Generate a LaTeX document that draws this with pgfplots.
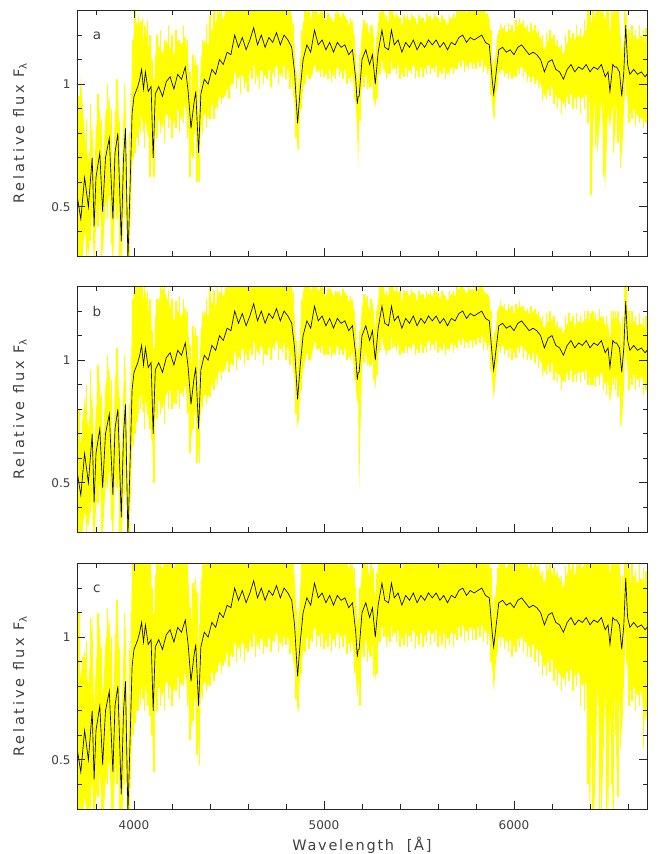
\documentclass[border=0pt]{standalone}
\usepackage{fontspec}
\setmainfont{DejaVu Sans}
\usepackage{pgfplots}
\pgfplotsset{compat=1.18}
\usepackage{pgfplotstable}
\usepgfplotslibrary{fillbetween}

\pgfplotstableread{
x f alo ahi blo bhi clo chi
3700 0.55 0.35 0.74 0.33 0.70 0.28 0.78
3720 0.45 0.25 1.03 0.28 0.66 0.20 0.85
3740 0.62 0.40 0.80 0.38 0.85 0.35 0.95
3760 0.50 0.30 0.68 0.32 0.72 0.25 0.80
3780 0.70 0.48 0.85 0.45 0.88 0.42 1.10
3790 0.42 0.25 0.60 0.22 0.62 0.20 0.70
3800 0.62 0.42 0.82 0.40 0.80 0.35 0.90
3820 0.72 0.52 0.90 0.50 0.92 0.45 1.05
3835 0.48 0.30 0.66 0.28 0.65 0.22 0.75
3850 0.70 0.50 0.88 0.48 0.90 0.40 0.98
3870 0.78 0.55 0.95 0.55 0.98 0.50 1.08
3889 0.45 0.25 0.65 0.25 0.62 0.20 0.72
3900 0.72 0.50 0.88 0.52 0.92 0.45 1.00
3915 0.80 0.58 0.98 0.58 1.00 0.52 1.10
3933 0.36 0.20 0.55 0.20 0.55 0.15 0.60
3945 0.70 0.48 0.88 0.45 0.90 0.40 0.95
3955 0.82 0.60 0.95 0.60 0.98 0.55 1.05
3968 0.28 0.15 0.45 0.15 0.45 0.10 0.50
3980 0.60 0.40 0.80 0.38 0.85 0.35 0.92
3990 0.88 0.65 1.10 0.62 1.15 0.60 1.25
4000 0.95 0.78 1.22 0.75 1.30 0.72 1.35
4010 0.97 0.80 1.27 0.82 1.32 0.74 1.35
4020 0.99 0.84 1.20 0.80 1.28 0.78 1.35
4030 1.02 0.82 1.25 0.85 1.32 0.76 1.35
4040 1.06 0.88 1.26 0.86 1.30 0.80 1.35
4050 0.98 0.80 1.18 0.78 1.25 0.74 1.32
4060 1.05 0.86 1.24 0.84 1.28 0.80 1.35
4075 0.97 0.78 1.15 0.76 1.20 0.72 1.30
4090 0.99 0.82 1.18 0.80 1.22 0.75 1.28
4101 0.70 0.60 0.85 0.55 0.90 0.50 0.95
4112 0.96 0.80 1.12 0.78 1.18 0.74 1.25
4130 0.99 0.86 1.16 0.84 1.24 0.80 1.30
4150 0.95 0.82 1.12 0.80 1.30 0.76 1.28
4170 1.01 0.88 1.18 0.86 1.26 0.82 1.35
4190 1.03 0.86 1.15 0.88 1.22 0.80 1.30
4210 0.98 0.84 1.12 0.82 1.16 0.78 1.28
4230 1.04 0.90 1.18 0.88 1.20 0.84 1.32
4250 1.02 0.85 1.16 0.86 1.18 0.80 1.30
4270 1.07 0.92 1.20 0.90 1.22 0.86 1.35
4285 0.97 0.82 1.10 0.80 1.12 0.76 1.25
4300 0.82 0.70 0.95 0.68 0.98 0.62 1.05
4315 0.92 0.78 1.06 0.76 1.08 0.72 1.18
4325 0.97 0.82 1.12 0.80 1.14 0.76 1.25
4340 0.72 0.60 0.85 0.62 0.88 0.55 0.95
4352 0.96 0.82 1.10 0.80 1.12 0.76 1.22
4370 1.02 0.88 1.18 0.86 1.20 0.82 1.32
4390 1.00 0.86 1.16 0.85 1.18 0.80 1.30
4410 1.06 0.92 1.22 0.90 1.24 0.86 1.35
4430 1.04 0.90 1.25 0.92 1.22 0.85 1.32
4450 1.10 0.95 1.30 0.96 1.28 0.90 1.35
4470 1.08 0.94 1.26 0.95 1.26 0.88 1.35
4490 1.13 0.98 1.32 1.00 1.30 0.94 1.35
4510 1.12 0.99 1.30 0.98 1.32 0.92 1.35
4530 1.20 1.05 1.35 1.04 1.35 0.98 1.35
4550 1.15 1.02 1.32 1.00 1.32 0.95 1.35
4570 1.19 1.04 1.35 1.05 1.35 0.98 1.35
4590 1.14 1.00 1.30 1.02 1.30 0.95 1.35
4610 1.18 1.05 1.35 1.04 1.35 0.98 1.35
4630 1.23 1.08 1.35 1.08 1.35 1.02 1.35
4650 1.16 1.02 1.32 1.03 1.32 0.96 1.35
4670 1.20 1.06 1.35 1.06 1.35 1.00 1.35
4690 1.15 1.03 1.30 1.02 1.32 0.96 1.35
4710 1.19 1.06 1.35 1.05 1.35 1.00 1.35
4730 1.17 1.04 1.32 1.05 1.32 0.98 1.35
4750 1.21 1.08 1.35 1.08 1.35 1.02 1.35
4770 1.16 1.03 1.32 1.04 1.35 0.97 1.35
4790 1.20 1.08 1.35 1.07 1.35 1.00 1.35
4810 1.18 1.06 1.33 1.05 1.35 1.00 1.35
4830 1.15 1.02 1.28 1.02 1.30 0.96 1.32
4845 1.05 0.92 1.15 0.92 1.18 0.88 1.25
4861 0.84 0.73 0.92 0.72 0.95 0.70 1.00
4875 0.98 0.88 1.10 0.86 1.12 0.84 1.20
4890 1.10 0.98 1.25 0.96 1.28 0.94 1.35
4910 1.16 1.04 1.30 1.03 1.32 1.00 1.35
4930 1.13 1.02 1.26 1.00 1.28 0.98 1.35
4950 1.22 1.08 1.32 1.08 1.33 1.04 1.35
4970 1.16 1.05 1.28 1.04 1.28 1.00 1.32
4990 1.18 1.06 1.30 1.06 1.30 1.02 1.35
5010 1.14 1.04 1.26 1.02 1.26 0.98 1.30
5030 1.17 1.06 1.28 1.06 1.30 1.02 1.32
5050 1.13 1.03 1.25 1.02 1.26 0.98 1.30
5070 1.17 1.07 1.30 1.06 1.28 1.02 1.32
5090 1.15 1.05 1.27 1.04 1.26 1.00 1.30
5110 1.16 1.06 1.28 1.05 1.28 1.01 1.32
5130 1.12 1.02 1.24 1.01 1.24 0.97 1.28
5150 1.14 1.04 1.26 1.03 1.25 0.98 1.30
5167 1.02 0.92 1.12 0.90 1.14 0.86 1.20
5175 0.92 0.80 1.00 0.82 1.00 0.75 1.05
5180 0.95 0.66 1.02 0.85 1.05 0.80 1.08
5185 0.95 0.85 1.04 0.47 1.04 0.82 1.08
5200 1.10 1.00 1.22 0.99 1.22 0.95 1.28
5220 1.14 1.04 1.25 1.03 1.26 0.99 1.30
5240 1.08 0.98 1.20 0.97 1.20 0.93 1.25
5255 1.12 1.02 1.24 1.01 1.24 0.97 1.28
5270 1.00 0.90 1.10 0.88 1.12 0.82 1.16
5285 1.13 1.03 1.25 1.02 1.25 0.98 1.30
5305 1.22 1.10 1.32 1.10 1.33 1.05 1.35
5320 1.15 1.05 1.28 1.04 1.27 1.00 1.32
5340 1.14 1.04 1.25 1.04 1.26 1.00 1.30
5355 1.22 1.10 1.32 1.10 1.32 1.05 1.35
5370 1.16 1.06 1.27 1.05 1.28 1.01 1.32
5390 1.18 1.08 1.28 1.07 1.28 1.03 1.33
5410 1.13 1.04 1.24 1.03 1.24 0.99 1.28
5430 1.17 1.07 1.27 1.06 1.28 1.02 1.32
5450 1.15 1.05 1.26 1.05 1.26 1.00 1.30
5470 1.18 1.08 1.28 1.07 1.28 1.03 1.32
5490 1.14 1.05 1.24 1.04 1.24 1.00 1.30
5510 1.17 1.07 1.27 1.07 1.27 1.02 1.32
5530 1.15 1.06 1.25 1.05 1.25 1.00 1.30
5550 1.18 1.08 1.28 1.08 1.27 1.03 1.33
5570 1.16 1.06 1.26 1.06 1.26 1.01 1.31
5590 1.18 1.08 1.28 1.08 1.28 1.03 1.33
5610 1.15 1.05 1.25 1.05 1.25 1.00 1.30
5630 1.17 1.07 1.27 1.07 1.27 1.02 1.32
5650 1.14 1.04 1.24 1.04 1.24 0.99 1.29
5670 1.17 1.07 1.27 1.07 1.27 1.02 1.32
5690 1.16 1.06 1.27 1.06 1.26 1.01 1.31
5710 1.19 1.09 1.30 1.08 1.29 1.04 1.34
5730 1.20 1.10 1.31 1.09 1.30 1.05 1.35
5750 1.17 1.07 1.29 1.07 1.27 1.02 1.33
5770 1.19 1.09 1.31 1.08 1.29 1.04 1.34
5790 1.18 1.08 1.30 1.08 1.28 1.03 1.33
5810 1.19 1.09 1.31 1.09 1.29 1.04 1.34
5830 1.20 1.10 1.32 1.10 1.30 1.05 1.35
5850 1.17 1.07 1.29 1.07 1.27 1.02 1.32
5870 1.16 1.06 1.27 1.06 1.26 1.01 1.31
5885 1.02 0.92 1.12 0.92 1.12 0.88 1.18
5893 0.96 0.86 1.05 0.84 1.05 0.78 1.08
5905 1.04 0.95 1.14 0.94 1.14 0.90 1.20
5920 1.14 1.05 1.22 1.05 1.22 1.00 1.30
5940 1.15 1.06 1.23 1.06 1.22 1.00 1.30
5960 1.13 1.04 1.21 1.04 1.20 0.98 1.28
5980 1.14 1.05 1.22 1.05 1.21 0.99 1.30
6000 1.12 1.03 1.21 1.03 1.19 0.96 1.27
6020 1.15 1.06 1.24 1.05 1.21 0.99 1.30
6040 1.16 1.07 1.25 1.06 1.22 1.00 1.32
6060 1.14 1.05 1.23 1.04 1.20 0.98 1.30
6080 1.12 1.03 1.21 1.02 1.19 0.96 1.28
6100 1.13 1.03 1.22 1.03 1.20 0.97 1.28
6120 1.12 1.02 1.21 1.02 1.19 0.95 1.29
6140 1.10 1.00 1.19 1.00 1.17 0.94 1.26
6160 1.05 0.95 1.14 0.95 1.13 0.88 1.22
6180 1.09 0.98 1.18 0.98 1.16 0.90 1.28
6200 1.10 0.99 1.19 0.99 1.17 0.91 1.26
6220 1.06 0.95 1.16 0.95 1.14 0.87 1.25
6240 1.05 0.94 1.15 0.94 1.13 0.85 1.24
6260 1.02 0.92 1.12 0.91 1.11 0.83 1.20
6280 1.06 0.95 1.17 0.95 1.15 0.86 1.26
6300 1.08 0.96 1.19 0.96 1.16 0.87 1.28
6320 1.05 0.94 1.18 0.94 1.14 0.84 1.25
6340 1.07 0.95 1.20 0.95 1.16 0.86 1.30
6360 1.06 0.94 1.19 0.95 1.15 0.80 1.28
6380 1.08 0.96 1.22 0.96 1.17 0.82 1.32
6400 1.05 0.92 1.30 0.93 1.16 0.25 1.35
6410 1.06 0.58 1.22 0.94 1.16 0.80 1.30
6420 1.07 0.95 1.25 0.94 1.17 0.20 1.35
6440 1.06 0.72 1.35 0.93 1.16 0.82 1.32
6460 1.08 0.94 1.30 0.95 1.18 0.25 1.35
6480 1.03 0.57 1.26 0.90 1.14 0.78 1.30
6495 1.05 0.90 1.35 0.91 1.15 0.20 1.35
6505 0.97 0.82 1.20 0.82 1.08 0.72 1.25
6520 1.08 0.92 1.30 0.94 1.18 0.30 1.35
6530 1.07 0.74 1.35 0.93 1.17 0.80 1.32
6540 1.07 0.92 1.32 0.92 1.17 0.45 1.35
6555 1.05 0.80 1.25 0.90 1.16 0.75 1.30
6567 0.95 0.70 1.10 0.73 1.05 0.60 1.15
6578 1.05 0.88 1.18 0.88 1.16 0.80 1.25
6588 1.24 1.05 1.30 1.10 1.35 1.05 1.35
6598 1.08 0.92 1.20 0.95 1.20 0.85 1.28
6610 1.04 0.88 1.18 0.92 1.15 0.78 1.22
6630 1.06 0.90 1.20 0.94 1.16 0.80 1.25
6650 1.04 0.87 1.18 0.92 1.14 0.76 1.22
6670 1.05 0.86 1.20 0.93 1.15 0.78 1.24
6690 1.03 0.85 1.17 0.90 1.13 0.64 1.22
6700 1.04 0.88 1.19 0.92 1.15 0.75 1.23
}\spec

% single-pixel excursions of the yellow band (lower / upper end)
\pgfplotstableread{
x alo ahi blo bhi clo chi
3710 0.25 0.95 0.28 0.80 0.20 1.10
3730 0.30 0.82 0.30 0.76 0.25 0.92
3750 0.26 0.86 0.25 0.90 0.20 0.98
3770 0.36 0.92 0.38 0.96 0.30 1.08
3810 0.42 0.96 0.42 0.98 0.35 1.10
3830 0.30 0.86 0.30 0.86 0.25 0.96
3860 0.45 1.00 0.48 1.02 0.40 1.12
3880 0.35 0.90 0.35 0.92 0.28 1.00
3910 0.45 1.02 0.48 1.05 0.40 1.15
3925 0.30 0.85 0.30 0.85 0.25 0.95
3950 0.45 1.00 0.45 1.02 0.40 1.10
3975 0.25 0.80 0.25 0.82 0.20 0.95
3995 0.70 1.18 0.65 1.25 0.60 1.30
4005 0.72 1.30 0.70 1.35 0.65 1.35
4015 0.78 1.25 0.75 1.35 0.70 1.35
4025 0.75 1.28 0.78 1.33 0.70 1.35
4035 0.80 1.22 0.80 1.30 0.72 1.35
4045 0.84 1.27 0.82 1.35 0.75 1.35
4055 0.74 1.24 0.72 1.30 0.70 1.35
4070 0.80 1.26 0.78 1.28 0.72 1.35
4085 0.62 1.20 0.72 1.25 0.68 1.32
4095 0.70 1.10 0.68 1.12 0.60 1.20
4105 0.62 1.02 0.50 1.05 0.45 1.10
4120 0.78 1.20 0.76 1.25 0.70 1.32
4140 0.80 1.22 0.78 1.30 0.72 1.35
4160 0.76 1.18 0.74 1.35 0.70 1.30
4180 0.82 1.24 0.80 1.28 0.75 1.35
4200 0.78 1.20 0.80 1.25 0.72 1.32
4220 0.82 1.22 0.82 1.24 0.78 1.35
4240 0.80 1.18 0.80 1.26 0.75 1.32
4260 0.84 1.24 0.85 1.25 0.80 1.35
4280 0.78 1.18 0.78 1.20 0.72 1.30
4295 0.62 1.05 0.62 1.06 0.58 1.12
4310 0.70 1.12 0.72 1.14 0.66 1.22
4332 0.60 1.08 0.58 1.10 0.52 1.18
4345 0.60 0.98 0.58 1.00 0.48 1.05
4360 0.80 1.18 0.80 1.20 0.75 1.30
4380 0.82 1.24 0.82 1.25 0.78 1.35
4400 0.86 1.28 0.85 1.30 0.80 1.35
4420 0.86 1.30 0.88 1.28 0.82 1.35
4440 0.90 1.35 0.90 1.32 0.86 1.35
4460 0.92 1.32 0.92 1.35 0.85 1.35
4480 0.95 1.35 0.96 1.35 0.90 1.35
4500 0.94 1.35 0.95 1.35 0.88 1.35
4520 1.00 1.35 0.98 1.35 0.92 1.35
4540 0.98 1.35 0.96 1.35 0.90 1.35
4560 0.96 1.35 1.00 1.35 0.92 1.35
4580 0.98 1.35 0.98 1.35 0.90 1.35
4600 0.97 1.35 1.00 1.35 0.94 1.35
4620 1.02 1.35 1.02 1.35 0.96 1.35
4640 1.00 1.35 1.00 1.35 0.92 1.35
4660 0.98 1.35 1.02 1.35 0.95 1.35
4680 1.00 1.35 0.98 1.35 0.93 1.35
4700 1.02 1.35 1.02 1.35 0.96 1.35
4720 0.99 1.35 1.00 1.35 0.94 1.35
4740 1.03 1.35 1.04 1.35 0.98 1.35
4760 1.00 1.35 1.00 1.35 0.94 1.35
4780 1.03 1.35 1.03 1.35 0.96 1.35
4800 1.02 1.35 1.00 1.35 0.97 1.35
4820 0.98 1.35 0.98 1.35 0.93 1.35
4838 0.95 1.25 0.95 1.28 0.90 1.32
4853 0.78 1.05 0.78 1.08 0.75 1.12
4866 0.73 1.00 0.75 1.02 0.70 1.08
4882 0.90 1.22 0.88 1.25 0.85 1.32
4900 1.00 1.30 1.00 1.32 0.94 1.35
4920 1.02 1.30 1.00 1.33 0.95 1.35
4940 1.04 1.33 1.04 1.33 0.98 1.35
4960 1.05 1.32 1.04 1.32 0.96 1.35
4980 1.03 1.30 1.03 1.31 0.96 1.35
5000 1.03 1.28 1.02 1.29 0.95 1.35
5020 1.02 1.29 1.02 1.29 0.96 1.35
5040 1.01 1.27 1.01 1.28 0.94 1.33
5060 1.02 1.29 1.02 1.28 0.96 1.35
5080 1.03 1.28 1.02 1.28 0.95 1.33
5100 1.02 1.29 1.02 1.29 0.96 1.35
5120 1.00 1.26 1.00 1.26 0.93 1.32
5140 1.01 1.27 1.00 1.26 0.94 1.33
5160 0.94 1.20 0.93 1.20 0.85 1.28
5190 0.85 1.12 0.85 1.12 0.72 1.20
5210 0.99 1.26 0.99 1.27 0.92 1.33
5230 0.98 1.25 0.98 1.26 0.90 1.32
5248 0.99 1.24 0.98 1.25 0.92 1.30
5262 0.93 1.20 0.92 1.20 0.84 1.28
5278 0.94 1.19 0.94 1.20 0.85 1.26
5295 1.04 1.29 1.04 1.30 0.98 1.35
5312 1.06 1.32 1.06 1.32 1.00 1.35
5330 1.02 1.28 1.02 1.28 0.96 1.34
5348 1.04 1.31 1.04 1.31 0.98 1.35
5362 1.06 1.32 1.05 1.32 1.00 1.35
5380 1.04 1.29 1.04 1.30 0.98 1.35
5400 1.02 1.27 1.02 1.28 0.96 1.33
5420 1.03 1.28 1.03 1.28 0.97 1.35
5440 1.03 1.28 1.03 1.28 0.96 1.34
5460 1.04 1.29 1.04 1.29 0.98 1.35
5480 1.02 1.27 1.02 1.27 0.95 1.33
5500 1.03 1.28 1.03 1.28 0.97 1.35
5520 1.03 1.27 1.03 1.27 0.96 1.33
5540 1.04 1.29 1.03 1.28 0.98 1.35
5560 1.04 1.28 1.04 1.28 0.97 1.34
5580 1.05 1.29 1.04 1.29 0.98 1.35
5600 1.03 1.27 1.03 1.27 0.96 1.33
5620 1.04 1.28 1.04 1.28 0.97 1.35
5640 1.02 1.26 1.02 1.26 0.95 1.32
5660 1.04 1.28 1.04 1.28 0.97 1.35
5680 1.04 1.29 1.03 1.28 0.96 1.34
5700 1.06 1.31 1.05 1.30 0.99 1.35
5720 1.07 1.32 1.06 1.31 1.00 1.35
5740 1.05 1.31 1.05 1.29 0.98 1.35
5760 1.06 1.32 1.05 1.30 0.99 1.35
5780 1.06 1.31 1.05 1.29 0.99 1.35
5800 1.06 1.32 1.06 1.30 0.99 1.35
5820 1.07 1.33 1.07 1.31 1.00 1.35
5840 1.05 1.31 1.04 1.29 0.98 1.35
5860 1.04 1.29 1.04 1.27 0.97 1.34
5878 0.96 1.22 0.96 1.20 0.90 1.28
5898 0.86 1.10 0.88 1.12 0.82 1.16
5912 0.99 1.20 0.99 1.20 0.94 1.28
5930 1.04 1.25 1.03 1.24 0.96 1.33
5950 1.03 1.24 1.02 1.23 0.95 1.33
5970 1.02 1.25 1.01 1.23 0.94 1.32
5990 1.02 1.24 1.00 1.22 0.92 1.31
6010 1.03 1.26 1.01 1.23 0.94 1.33
6030 1.04 1.27 1.03 1.24 0.96 1.34
6050 1.03 1.26 1.01 1.22 0.94 1.33
6070 1.01 1.24 1.00 1.21 0.92 1.31
6090 1.01 1.25 1.00 1.22 0.92 1.32
6110 1.00 1.24 0.99 1.21 0.90 1.32
6130 0.98 1.22 0.97 1.20 0.88 1.30
6150 0.93 1.20 0.93 1.18 0.84 1.27
6170 0.94 1.21 0.94 1.19 0.84 1.30
6190 0.95 1.22 0.95 1.20 0.86 1.30
6210 0.92 1.20 0.92 1.18 0.82 1.28
6230 0.90 1.18 0.91 1.16 0.80 1.27
6250 0.88 1.16 0.88 1.14 0.78 1.25
6270 0.90 1.20 0.91 1.18 0.80 1.29
6290 0.92 1.22 0.92 1.19 0.82 1.30
6310 0.90 1.21 0.91 1.18 0.78 1.30
6330 0.90 1.24 0.91 1.19 0.80 1.33
6350 0.88 1.23 0.91 1.18 0.72 1.32
6370 0.90 1.26 0.92 1.20 0.70 1.35
6390 0.84 1.35 0.90 1.20 0.40 1.35
6405 0.55 1.25 0.90 1.19 0.60 1.33
6415 0.86 1.35 0.90 1.20 0.28 1.35
6430 0.75 1.28 0.89 1.19 0.50 1.35
6450 0.86 1.35 0.90 1.21 0.20 1.35
6470 0.62 1.30 0.88 1.18 0.55 1.35
6488 0.84 1.35 0.86 1.18 0.25 1.35
6512 0.88 1.33 0.88 1.20 0.40 1.35
6525 0.72 1.35 0.90 1.20 0.28 1.35
6535 0.85 1.35 0.88 1.20 0.60 1.35
6548 0.76 1.30 0.85 1.20 0.35 1.35
6560 0.66 1.20 0.73 1.15 0.55 1.25
6572 0.78 1.15 0.80 1.18 0.68 1.25
6583 0.95 1.30 1.00 1.35 0.95 1.35
6593 0.95 1.28 1.00 1.30 0.90 1.35
6605 0.84 1.22 0.88 1.20 0.72 1.28
6620 0.86 1.24 0.90 1.20 0.74 1.30
6640 0.83 1.22 0.88 1.18 0.70 1.27
6660 0.84 1.24 0.89 1.19 0.72 1.30
6680 0.82 1.22 0.86 1.17 0.55 1.28
6695 0.84 1.23 0.88 1.18 0.68 1.27
}\spk

\definecolor{txt}{gray}{0.25}
\definecolor{axl}{gray}{0.15}
\definecolor{band}{rgb}{1,1,0}

\pgfplotsset{
  panel/.style={
    scale only axis, width=570pt, height=245.5pt,
    anchor=south west,
    xmin=3700, xmax=6700, ymin=0.3, ymax=1.3,
    xtick={4000,5000,6000},
    minor xtick={3800,4200,4400,4600,4800,5200,5400,5600,5800,6200,6400,6600},
    ytick={0.5,1},
    minor ytick={0.3,0.4,0.6,0.7,0.8,0.9,1.1,1.2},
    tick align=inside, major tick length=8pt, minor tick length=4.5pt,
    axis on top,
    axis line style={axl, line width=0.8pt},
    every tick/.style={axl, line width=0.8pt},
    /pgf/number format/assume math mode=true,
    /pgf/number format/1000 sep={},
    ticklabel style={font=\fontsize{12}{14}\selectfont, text=txt},
    xticklabel style={yshift=-8pt},
    yticklabel style={xshift=-3pt},
    ylabel={Relative flux F\textsubscript{λ}},
    ylabel style={font=\fontsize{14.5}{16}\selectfont\addfontfeatures{LetterSpace=20}, text=txt,
      inner sep=0pt, at={(axis description cs:-0.1,0.5)}, anchor=center},
  },
  spikes/.style={draw=band, line width=1.4pt, forget plot, mark=none},
}

\begin{document}
\begin{tikzpicture}

\begin{axis}[panel, at={(77pt,598pt)}, xticklabels={}]
  \addplot[draw=none, name path=ahi, forget plot] table[x=x, y=ahi] {\spec};
  \addplot[draw=none, name path=alo, forget plot] table[x=x, y=alo] {\spec};
  \addplot[band, forget plot] fill between[of=ahi and alo];
  \addplot[spikes, quiver={u=0, v=\thisrow{ahi}-\thisrow{alo}}] table[x=x, y=alo] {\spk};
  \addplot[black, line width=0.65pt] table[x=x, y=f] {\spec};
  \node[font=\fontsize{13.5}{15}\selectfont, text=txt] at (rel axis cs:0.035,0.897) {a};
\end{axis}

\begin{axis}[panel, at={(77pt,322pt)}, xticklabels={}]
  \addplot[draw=none, name path=bhi, forget plot] table[x=x, y=bhi] {\spec};
  \addplot[draw=none, name path=blo, forget plot] table[x=x, y=blo] {\spec};
  \addplot[band, forget plot] fill between[of=bhi and blo];
  \addplot[spikes, quiver={u=0, v=\thisrow{bhi}-\thisrow{blo}}] table[x=x, y=blo] {\spk};
  \addplot[black, line width=0.65pt] table[x=x, y=f] {\spec};
  \node[font=\fontsize{13.5}{15}\selectfont, text=txt] at (rel axis cs:0.035,0.897) {b};
\end{axis}

\begin{axis}[panel, at={(77pt,45pt)},
  xlabel={Wavelength~~[Å]},
  xlabel style={font=\fontsize{14.5}{16}\selectfont\addfontfeatures{LetterSpace=12}, text=txt,
    inner sep=0pt, at={(axis description cs:0.5,0)}, anchor=center, yshift=-36pt}]
  \addplot[draw=none, name path=chi, forget plot] table[x=x, y=chi] {\spec};
  \addplot[draw=none, name path=clo, forget plot] table[x=x, y=clo] {\spec};
  \addplot[band, forget plot] fill between[of=chi and clo];
  \addplot[spikes, quiver={u=0, v=\thisrow{chi}-\thisrow{clo}}] table[x=x, y=clo] {\spk};
  \addplot[black, line width=0.65pt] table[x=x, y=f] {\spec};
  \node[font=\fontsize{13.5}{15}\selectfont, text=txt] at (rel axis cs:0.035,0.897) {c};
\end{axis}

\path (0,0) rectangle (658pt,854pt);
\end{tikzpicture}
\end{document}
